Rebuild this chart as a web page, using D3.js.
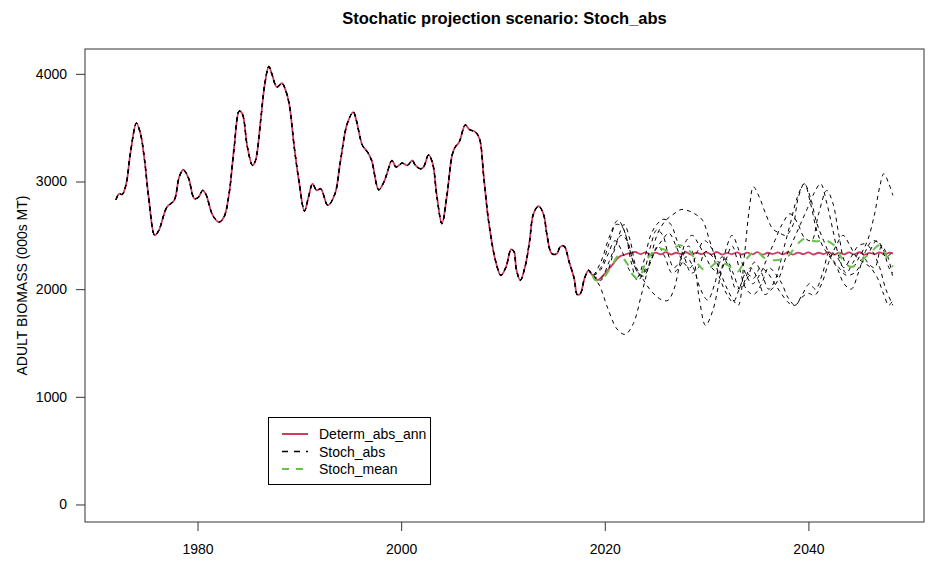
<!DOCTYPE html>
<html>
<head>
<meta charset="utf-8">
<script src="https://cdn.jsdelivr.net/npm/d3@7"></script>
<style>
  body { margin: 0; background: #fff; }
  text { font-family: "Liberation Sans", Arial, sans-serif; fill: #000; }
</style>
</head>
<body>
<svg id="chart" width="932" height="566"></svg>
<script>
// Historical adult biomass (000s MT)
const histYears = [1972.0, 1972.3, 1972.6, 1973.0, 1973.4, 1974.0, 1974.4, 1974.8, 1975.2, 1975.8,
  1976.2, 1977.0, 1977.7, 1978.2, 1978.6, 1979.1, 1979.7, 1980.1, 1980.5, 1980.8,
  1981.5, 1982.1, 1982.6, 1983.1, 1983.6, 1984.1, 1984.4, 1984.9, 1985.4, 1985.7,
  1986.2, 1986.6, 1987.0, 1987.3, 1987.8, 1988.3, 1988.6, 1989.0, 1989.5, 1990.0,
  1990.5, 1990.9, 1991.3, 1991.7, 1992.1, 1992.8, 1993.5, 1994.0, 1994.7, 1995.3,
  1995.6, 1996.2, 1996.7, 1997.1, 1997.8, 1998.3, 1998.6, 1999.1, 1999.5, 2000.1,
  2000.6, 2001.1, 2001.4, 2001.9, 2002.2, 2002.7, 2003.1, 2003.5, 2004.0, 2004.5,
  2005.0, 2005.3, 2005.7, 2006.3, 2006.7, 2007.3, 2007.7, 2008.1, 2008.6, 2009.3,
  2009.8, 2010.3, 2010.8, 2011.1, 2011.3, 2011.7, 2012.2, 2012.6, 2013.0, 2013.5,
  2014.0, 2014.3, 2014.8, 2015.3, 2015.6, 2016.0, 2016.5, 2017.0, 2017.3, 2017.6,
  2018.0, 2018.4, 2018.8];
const histValues = [2833, 2886, 2880, 2979, 3257, 3542, 3443, 3196, 2855, 2499,
  2546, 2763, 2824, 3041, 3109, 3035, 2840, 2855, 2917, 2886,
  2685, 2623, 2670, 2886, 3319, 3654, 3629, 3319, 3149, 3196,
  3567, 3900, 4068, 4000, 3876, 3913, 3861, 3722, 3319, 2979,
  2726, 2855, 2979, 2917, 2933, 2778, 2886, 3165, 3536, 3645,
  3567, 3335, 3273, 3196, 2923, 2995, 3072, 3196, 3134, 3171,
  3149, 3196, 3149, 3118, 3134, 3248, 3165, 2871, 2608, 2871,
  3242, 3319, 3366, 3527, 3483, 3459, 3397, 3056, 2623, 2252,
  2128, 2206, 2369, 2345, 2190, 2082, 2221, 2438, 2701, 2772,
  2691, 2515, 2329, 2329, 2391, 2401, 2252, 2097, 1949, 1958,
  2097, 2175, 2128];

// Deterministic projection (Determ_abs_ann)
const projYears = [2019.3, 2019.9, 2020.7, 2021.4, 2022.0, 2022.5, 2023.0]
  .concat(d3.range(2023.5, 2048.01, 0.5)).concat([2048.3]);
const determProj = [2085, 2134, 2221, 2299, 2322, 2336, 2345,
  2326, 2342, 2321, 2339, 2324, 2344, 2322, 2338, 2327, 2343,
  2320, 2340, 2325, 2341, 2323, 2345, 2321, 2337, 2326, 2342,
  2322, 2339, 2324, 2344, 2320, 2338, 2327, 2341, 2323, 2343,
  2321, 2340, 2325, 2342, 2322, 2338, 2326, 2344, 2320, 2339,
  2324, 2341, 2323, 2343, 2321, 2337, 2326, 2342, 2322, 2340,
  2330];

// Stochastic mean (Stoch_mean)
const meanYears = [2018.8, 2019.1, 2019.9, 2020.7, 2021.4, 2022.2, 2022.8, 2023.3, 2024.2, 2025.3,
  2026.3, 2027.4, 2028.3, 2029.1, 2029.9, 2031.1, 2032.1, 2033.0, 2033.8, 2034.8,
  2035.8, 2036.8, 2037.9, 2038.7, 2039.6, 2040.7, 2041.7, 2042.7, 2043.3, 2044.2,
  2045.2, 2046.0, 2047.0, 2047.8, 2048.3];
const meanValues = [2128, 2082, 2113, 2221, 2314, 2237, 2128, 2097, 2283, 2376,
  2360, 2407, 2360, 2237, 2175, 2252, 2221, 2160, 2268, 2351,
  2283, 2268, 2299, 2391, 2469, 2444, 2453, 2391, 2283, 2206,
  2268, 2329, 2407, 2283, 2206];

// Individual stochastic trajectories (Stoch_abs), [year, biomass]
const stochRun1 = [[2019.5,2030],[2020.3,1820],[2021.2,1630],[2022.0,1580],[2022.8,1680],[2023.6,1950],
  [2024.4,2250],[2025.2,2520],[2026.0,2640],[2026.8,2700],[2027.5,2740],[2028.3,2725],[2029.0,2690],
  [2029.6,2640],[2030.3,2450],[2031.0,2250],[2031.8,2050],[2032.6,1900],[2033.1,1850],[2033.7,2300],
  [2034.2,2750],[2034.6,2950],[2035.2,2850],[2035.8,2700],[2036.5,2560],[2037.2,2520],[2037.8,2500],
  [2038.5,2600],[2039.0,2850],[2039.6,2980],[2040.2,2850],[2040.8,2620],[2041.5,2450],[2042.2,2300],
  [2043.0,2200],[2043.7,2130],[2044.5,2150],[2045.3,2250],[2046.0,2350],[2046.7,2450],[2047.3,2380],
  [2047.9,2200],[2048.3,2150]];
const stochRun2 = [[2019.6,2250],[2020.5,2500],[2021.3,2640],[2022.0,2520],[2022.6,2250],[2023.2,2080],
  [2023.8,2150],[2024.5,2400],[2025.1,2550],[2025.7,2500],[2026.2,2330],[2026.8,2200],[2027.5,2280],
  [2028.2,2400],[2028.6,2350],[2029.3,1900],[2029.9,1664],[2030.6,1800],[2031.3,2100],[2032.0,2400],
  [2032.5,2500],[2033.1,2380],[2033.8,2150],[2034.5,2050],[2035.3,2150],[2036.0,2300],[2036.7,2450],
  [2037.4,2600],[2038.2,2700],[2038.9,2620],[2039.6,2480],[2040.3,2450],[2041.0,2700],[2041.8,2917],
  [2042.4,2800],[2043.0,2500],[2043.6,2250],[2044.3,2200],[2045.0,2300],[2045.8,2450],[2046.5,2700],
  [2047.0,2950],[2047.4,3072],[2047.9,2980],[2048.3,2870]];
const stochRun3 = [[2019.6,2200],[2020.4,2420],[2021.1,2600],[2021.7,2580],[2022.4,2380],[2023.0,2200],
  [2023.7,2100],[2024.4,2000],[2025.0,1940],[2025.6,1900],[2026.2,1896],[2026.8,2000],[2027.4,2250],
  [2028.0,2450],[2028.6,2500],[2029.2,2420],[2029.9,2300],[2030.5,2200],[2031.2,2150],[2031.8,2250],
  [2032.5,2400],[2033.2,2200],[2033.9,2000],[2034.6,1950],[2035.4,2050],[2036.1,2200],[2036.7,2150],
  [2037.4,2050],[2038.0,1920],[2038.7,1850],[2039.3,1920],[2040.0,1960],[2040.6,1942],[2041.3,2050],
  [2042.0,2250],[2042.7,2400],[2043.4,2500],[2044.0,2420],[2044.7,2300],[2045.4,2250],[2046.1,2200],
  [2046.8,2100],[2047.4,1950],[2047.9,1850],[2048.3,1900]];
const stochRun4 = [[2019.5,2080],[2020.2,2150],[2020.9,2350],[2021.6,2500],[2022.2,2450],[2022.8,2250],
  [2023.5,2120],[2024.2,2200],[2024.9,2350],[2025.6,2450],[2026.3,2520],[2027.0,2400],[2027.7,2250],
  [2028.4,2200],[2029.1,2350],[2029.8,2450],[2030.5,2380],[2031.2,2250],[2031.9,2280],[2032.6,2150],
  [2033.3,2000],[2034.0,2100],[2034.7,2250],[2035.4,2150],[2036.1,2000],[2036.8,2100],[2037.5,2350],
  [2038.2,2600],[2038.9,2850],[2039.6,2979],[2040.2,2800],[2040.8,2550],[2041.4,2400],[2042.1,2300],
  [2042.8,2200],[2043.5,2050],[2044.2,2000],[2044.9,2150],[2045.6,2350],[2046.3,2450],[2047.0,2420],
  [2047.6,2300],[2048.3,2350]];
const stochRun5 = [[2019.6,2100],[2020.4,2250],[2021.2,2450],[2021.9,2600],[2022.5,2450],[2023.1,2200],
  [2023.8,2120],[2024.5,2250],[2025.2,2400],[2025.9,2300],[2026.6,2150],[2027.3,2200],[2028.0,2300],
  [2028.7,2200],[2029.4,2000],[2030.1,1900],[2030.8,2050],[2031.5,2300],[2032.2,2200],[2032.9,2000],
  [2033.6,2050],[2034.3,2200],[2035.0,2100],[2035.7,1950],[2036.4,2000],[2037.1,2100],[2037.8,2300],
  [2038.5,2450],[2039.2,2600],[2039.9,2750],[2040.6,2900],[2041.2,2979],[2041.8,2800],[2042.4,2550],
  [2043.0,2300],[2043.7,2150],[2044.4,2250],[2045.1,2350],[2045.8,2250],[2046.5,2200],[2047.2,2400],
  [2047.8,2300],[2048.3,2100]];
const stochRun6 = [[2019.6,2180],[2020.3,2320],[2021.0,2450],[2021.7,2350],[2022.4,2180],[2023.1,2100],
  [2023.8,2250],[2024.5,2500],[2025.1,2600],[2025.8,2650],[2026.5,2600],[2027.1,2450],[2027.8,2300],
  [2028.5,2150],[2029.2,2200],[2029.9,2350],[2030.6,2300],[2031.3,2100],[2032.0,1950],[2032.6,1880],
  [2033.2,2000],[2033.9,2150],[2034.6,2100],[2035.3,2200],[2036.0,2150],[2036.7,2050],[2037.4,1950],
  [2038.1,1870],[2038.7,1850],[2039.4,1950],[2040.1,2050],[2040.7,2000],[2041.4,2150],[2042.1,2350],
  [2042.8,2300],[2043.5,2200],[2044.2,2300],[2044.9,2400],[2045.6,2420],[2046.3,2350],[2047.0,2200],
  [2047.6,2000],[2048.3,1850]];

const xTicks = [1980, 2000, 2020, 2040];
const yTicks = [0, 1000, 2000, 3000, 4000];
const legendLabels = ["Determ_abs_ann", "Stoch_abs", "Stoch_mean"];

const colRed = "#CB3E60";
const colGreen = "#66C24C";

const svg = d3.select("#chart");
const W = 932, H = 566;
const plot = { left: 85, right: 924, top: 49, bottom: 522 };

const hist = histYears.map((yr, i) => [yr, histValues[i]]);
const determ = hist.concat(projYears.map((yr, i) => [yr, determProj[i]]));
const mean = meanYears.map((yr, i) => [yr, meanValues[i]]);
const runs = [stochRun1, stochRun2, stochRun3, stochRun4, stochRun5, stochRun6]
  .map(r => hist.concat(r));

// R-style axis ranges: data extent plus 4% on each side
const allPts = determ.concat(mean, ...runs);
const xExt = d3.extent(allPts, d => d[0]);
const yExt = [0, d3.max(allPts, d => d[1])];
const pad = (e) => { const r = e[1] - e[0]; return [e[0] - 0.04 * r, e[1] + 0.04 * r]; };

const x = d3.scaleLinear().domain(pad(xExt)).range([plot.left, plot.right]);
const y = d3.scaleLinear().domain(pad(yExt)).range([plot.bottom, plot.top]);

svg.append("rect").attr("width", W).attr("height", H).attr("fill", "#fff");

const line = d3.line()
  .x(d => x(d[0])).y(d => y(d[1]))
  .curve(d3.curveCatmullRom.alpha(0.5));

const g = svg.append("g");

// Deterministic run
g.append("path").datum(determ)
  .attr("d", line).attr("fill", "none")
  .attr("stroke", colRed).attr("stroke-width", 1.8);

// Stochastic runs
g.selectAll(".run").data(runs).join("path")
  .attr("class", "run")
  .attr("d", line).attr("fill", "none")
  .attr("stroke", "#000").attr("stroke-width", 1)
  .attr("stroke-dasharray", "4,4");

// Stochastic mean
g.append("path").datum(mean)
  .attr("d", line).attr("fill", "none")
  .attr("stroke", colGreen).attr("stroke-width", 2)
  .attr("stroke-dasharray", "8,8");

// Axes
const xAxis = svg.append("g")
  .attr("transform", `translate(0,${plot.bottom})`)
  .call(d3.axisBottom(x).tickValues(xTicks).tickFormat(d3.format("d")).tickSize(9).tickPadding(13));
const yAxis = svg.append("g")
  .attr("transform", `translate(${plot.left},0)`)
  .call(d3.axisLeft(y).tickValues(yTicks).tickFormat(d3.format("d")).tickSize(9).tickPadding(9));
[xAxis, yAxis].forEach(a => {
  a.select(".domain").remove();
  a.selectAll("line").attr("stroke", "#333");
  a.selectAll("text").attr("font-size", 14)
    .attr("font-family", "'Liberation Sans', Arial, sans-serif").attr("fill", "#000");
});

// Plot frame
svg.append("rect")
  .attr("x", plot.left).attr("y", plot.top)
  .attr("width", plot.right - plot.left).attr("height", plot.bottom - plot.top)
  .attr("fill", "none").attr("stroke", "#333").attr("stroke-width", 1);

// Title
svg.append("text")
  .attr("x", (plot.left + plot.right) / 2).attr("y", 24)
  .attr("text-anchor", "middle").attr("font-size", 16.5).attr("font-weight", "bold")
  .text("Stochatic projection scenario: Stoch_abs");

// Y-axis title
svg.append("text")
  .attr("transform", `translate(27,${(plot.top + plot.bottom) / 2}) rotate(-90)`)
  .attr("text-anchor", "middle").attr("font-size", 14)
  .text("ADULT BIOMASS (000s MT)");

// Legend
const lg = svg.append("g");
lg.append("rect")
  .attr("x", 268.5).attr("y", 417.5).attr("width", 162).attr("height", 67)
  .attr("fill", "#fff").attr("stroke", "#000").attr("stroke-width", 1);
const legendStyles = [
  { stroke: colRed, width: 2, dash: null },
  { stroke: "#000", width: 1.3, dash: "6,6" },
  { stroke: colGreen, width: 2, dash: "7,7" }
];
legendLabels.forEach((lab, i) => {
  const yy = 434 + i * 17.5;
  const s = legendStyles[i];
  lg.append("line")
    .attr("x1", 282).attr("x2", 308).attr("y1", yy).attr("y2", yy)
    .attr("stroke", s.stroke).attr("stroke-width", s.width)
    .attr("stroke-dasharray", s.dash);
  lg.append("text")
    .attr("x", 319).attr("y", yy).attr("dy", "0.36em")
    .attr("font-size", 14).text(lab);
});
</script>
</body>
</html>
